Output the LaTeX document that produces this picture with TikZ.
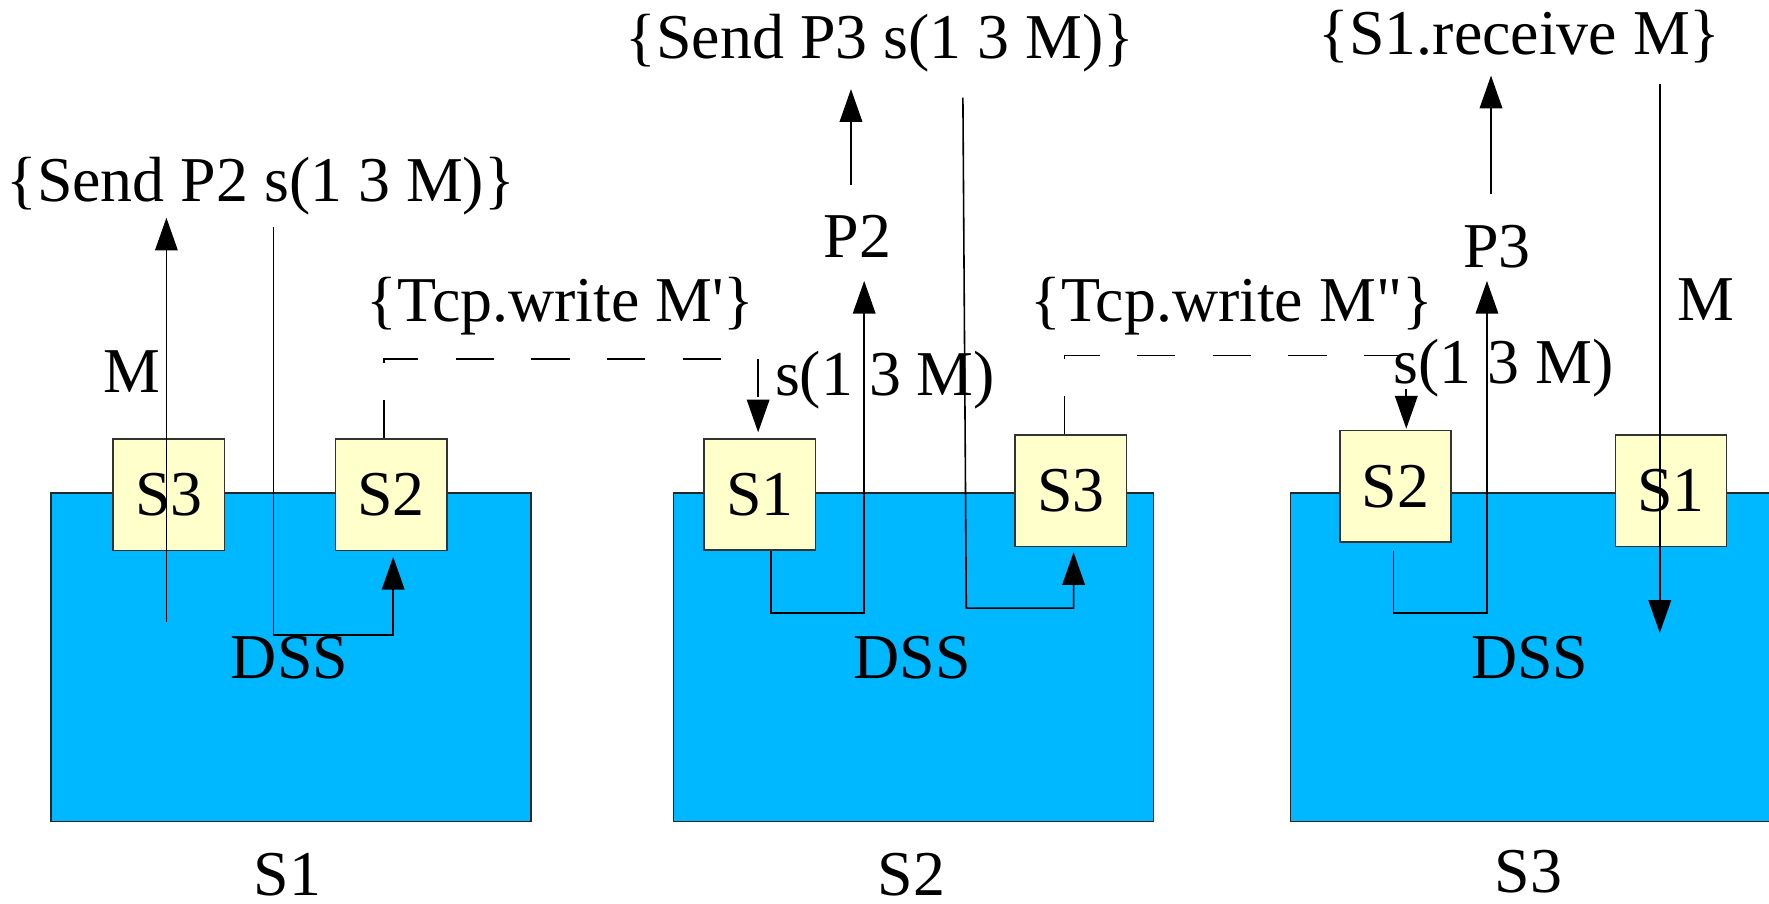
\documentclass[tikz,border=0pt]{standalone}
\usepackage{fontspec}
\newfontfamily\diagfont{Liberation Serif}
\usetikzlibrary{arrows.meta}

\definecolor{dsscyan}{RGB}{0,184,255}
\definecolor{portyellow}{RGB}{255,255,204}

\tikzset{
  hostbox/.style={draw=black!85, fill=dsscyan, line width=0.4pt, inner sep=0pt,
    minimum width=4.255cm, minimum height=2.91cm},
  portbox/.style={draw=black!80, fill=portyellow, line width=0.4pt, inner sep=0pt,
    minimum width=0.985cm, minimum height=0.985cm, font=\diagfont\fontsize{16.1pt}{19pt}\selectfont},
  lbl/.style={inner sep=0pt, anchor=base, font=\diagfont\fontsize{16.1pt}{19pt}\selectfont},
  wire/.style={draw=black, line width=0.4pt},
  arr/.style={wire, -{Triangle[length=0.29cm, width=0.2cm]}},
  link/.style={arr, dash pattern=on 9.67pt off 9.39pt},
}

\begin{document}
\begin{tikzpicture}[x=0.01cm, y=-0.01cm]
\useasboundingbox (0,0) rectangle (1568,801);

% ---- hosts ----
\node[hostbox] (hostA) at (257.9,582.5) {};
\node[hostbox] (hostB) at (809.7,582.5) {};
\node[hostbox] (hostC) at (1356.9,582.5) {};

% ---- socket ports ----
\node[portbox] (pA3) at (149.6,438.6) {S3};
\node[portbox] (pA2) at (346.7,438.6) {S2};
\node[portbox] (pB1) at (673.5,438.2) {S1};
\node[portbox] (pB3) at (949.2,435.0) {S3};
\node[portbox] (pC2) at (1237.0,431.0) {S2};
\node[portbox] (pC1) at (1481.2,435.0) {S1};

% ---- labels, host S1 ----
\node[lbl] (sendA) at (231,178.8) {\{Send P2 s(1 3 M)\}};
\node[lbl] (mA) at (117,347.5) {M};
\node[lbl] (tcpA) at (497,285) {\{Tcp.write M'\}};
\node[lbl] (dssA) at (256.6,601) {DSS};
\node[lbl] (nameA) at (254.7,794) {S1};

% ---- labels, host S2 ----
\node[lbl] (sendB) at (780,52.2) {\{Send P3 s(1 3 M)\}};
\node[lbl] (p2) at (760,228) {P2};
\node[lbl] (sB) at (784.5,350.6) {s(1 3 M)};
\node[lbl] (tcpB) at (1091.7,285) {\{Tcp.write M"\}};
\node[lbl] (dssB) at (808.5,601) {DSS};
\node[lbl] (nameB) at (808,794) {S2};

% ---- labels, host S3 ----
\node[lbl] (recvC) at (1347,48.5) {\{S1.receive M\}};
\node[lbl] (p3) at (1327,237) {P3};
\node[lbl] (sC) at (1333,339.5) {s(1 3 M)};
\node[lbl] (mC) at (1512.5,284) {M};
\node[lbl] (dssC) at (1356,601) {DSS};
\node[lbl] (nameC) at (1355,791) {S3};

% ---- bend points ----
\coordinate (mAtail) at (147.5,551);
\coordinate (mAhead) at (147.5,193);
\coordinate (sendAtail) at (242.5,201);
\coordinate (sendAbend) at (242.5,563);
\coordinate (sendArise) at (348.5,563);
\coordinate (tapA) at (340.5,318);
\coordinate (dropA) at (672,318);

\coordinate (p2tail) at (754.3,164);
\coordinate (p2head) at (754.3,79);
\coordinate (bendB) at (683.6,543.6);
\coordinate (riseB) at (766,543.6);
\coordinate (riseBhead) at (766,249);
\coordinate (sendBtail) at (853.5,86.5);
\coordinate (sendBbend) at (856.5,539);
\coordinate (sendBrise) at (951.6,539);
\coordinate (tapB) at (943.5,315.3);
\coordinate (dropB) at (1246.5,315.3);

\coordinate (p3tail) at (1321.6,172.3);
\coordinate (p3head) at (1321.6,67);
\coordinate (startC) at (1235,488.5);
\coordinate (bendC) at (1235,543.5);
\coordinate (riseC) at (1318,543.5);
\coordinate (riseChead) at (1318,249);
\coordinate (mCtail) at (1471.2,74.6);
\coordinate (mChead) at (1471.2,561);

% ---- connectors, host S1 ----
\draw[arr] (mAtail) -- (mAhead);
\draw[arr, shorten >=0.05cm] (sendAtail) -- (sendAbend) -- (sendArise) -- (pA2.south -| sendArise);
\draw[link, shorten >=0.05cm] (pA2.north -| tapA) -- (tapA) -- (dropA) -- (pB1.north -| dropA);

% ---- connectors, host S2 ----
\draw[arr] (p2tail) -- (p2head);
\draw[arr] (pB1.south -| bendB) -- (bendB) -- (riseB) -- (riseBhead);
\draw[arr, shorten >=0.045cm] (sendBtail) -- (sendBbend) -- (sendBrise) -- (pB3.south -| sendBrise);
\draw[link, shorten >=0.01cm] (pB3.north -| tapB) -- (tapB) -- (dropB) -- (pC2.north -| dropB);

% ---- connectors, host S3 ----
\draw[arr] (p3tail) -- (p3head);
\draw[arr] (startC) -- (bendC) -- (riseC) -- (riseChead);
\draw[arr] (mCtail) -- (mChead);
\end{tikzpicture}
\end{document}
